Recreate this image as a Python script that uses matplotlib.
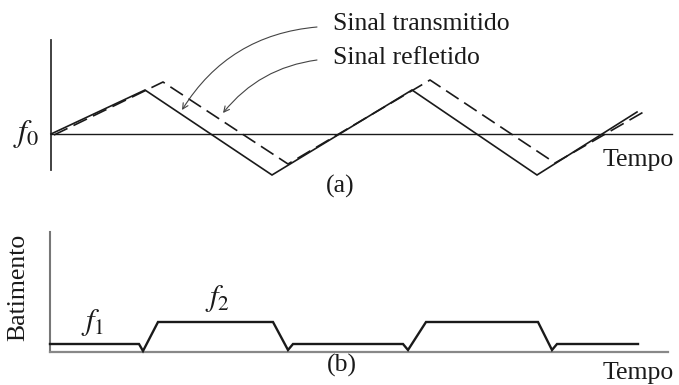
import matplotlib
matplotlib.use("Agg")
import matplotlib.pyplot as plt

plt.rcParams['font.family'] = ['Liberation Serif', 'DejaVu Serif']
plt.rcParams['mathtext.fontset'] = 'stix'

# ---- panel (a): frequency vs time (f relative to f0) ----
t_tx = [0, 94, 221, 361, 486, 586]
f_tx = [0, 44, -41, 44, -41, 22]
t_rx = [3, 112, 237, 379, 504, 596]
f_rx = [-1, 52, -30, 54, -29, 24]
axis_a_t = [0, 621]
axis_a_f = [94, -36]

# ---- panel (b): beat frequency vs time ----
t_beat = [0, 89, 93, 108, 223, 238, 243, 353, 358, 376, 488, 502, 507, 588]
f_beat = [8, 8, 1, 30, 30, 2, 8, 8, 2, 30, 30, 2, 8, 8]
axis_b_t = [0, 618]
axis_b_f = [120, 0]

fig = plt.figure(figsize=(6.79, 3.85), dpi=100)

ax_a = fig.add_axes([0, 0, 1, 1])
ax_a.set_xlim(-51, 628)
ax_a.set_ylim(134 - 385, 134)
ax_a.axis('off')

ax_b = fig.add_axes([0, 0, 1, 1])
ax_b.set_xlim(-50, 629)
ax_b.set_ylim(352 - 385, 352)
ax_b.axis('off')
ax_b.patch.set_alpha(0)

ink = '#1a1a1a'
fs = 18.5
# axes of panel (a)
ax_a.plot([0, 0], axis_a_f, color='#333333', lw=1.3)
ax_a.plot(axis_a_t, [0, 0], color=ink, lw=1.0)
# signals
ax_a.plot(t_tx, f_tx, color=ink, lw=1.2, solid_joinstyle='miter')
ax_a.plot(t_rx, f_rx, color=ink, lw=1.2, dashes=(9, 4))

# arrows
ax_a.annotate('', xy=(131, 24), xytext=(266, 107),
              arrowprops=dict(arrowstyle='->', color='#444444', lw=0.8,
                              connectionstyle='arc3,rad=0.25', shrinkA=0, shrinkB=0))
ax_a.annotate('', xy=(172, 21), xytext=(266, 74),
              arrowprops=dict(arrowstyle='->', color='#444444', lw=0.8,
                              connectionstyle='arc3,rad=0.2', shrinkA=0, shrinkB=0))

ax_a.text(282, 110, 'Sinal transmitido', fontsize=fs, ha='left', va='center', color=ink)
ax_a.text(282, 76, 'Sinal refletido', fontsize=fs, ha='left', va='center', color=ink)
ax_a.text(552, -26, 'Tempo', fontsize=fs, ha='left', va='center', color=ink)
ax_a.text(289, -52, '(a)', fontsize=fs, ha='center', va='center', color=ink)
ax_a.text(-25, 0, r'$f_0$', fontsize=23, ha='center', va='center', color=ink)

# panel (b)
ax_b.plot([0, 0], axis_b_f, color='#777777', lw=1.5)
ax_b.plot(axis_b_t, [0, 0], color='#888888', lw=1.6)
ax_b.plot(t_beat, f_beat, color=ink, lw=1.7, solid_joinstyle='miter')

ax_b.text(-32, 65, 'Batimento', fontsize=fs, rotation=90, ha='center', va='center', color=ink)
ax_b.text(43, 30, r'$f_\mathit{1}$', fontsize=22, ha='center', va='center', color=ink)
ax_b.text(168, 53, r'$f_\mathit{2}$', fontsize=22, ha='center', va='center', color=ink)
ax_b.text(292, -13, '(b)', fontsize=fs, ha='center', va='center', color=ink)
ax_b.text(553, -21, 'Tempo', fontsize=fs, ha='left', va='center', color=ink)

fig.savefig('out.png', dpi=100, facecolor='white')
